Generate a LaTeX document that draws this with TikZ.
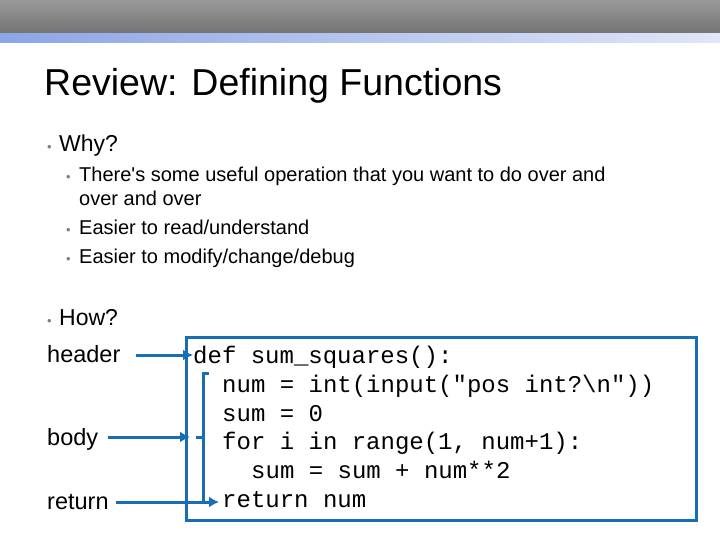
\documentclass[tikz,border=0pt]{standalone}
\usepackage{fontspec}
\usepackage{textcomp}
\setmainfont{Liberation Sans}
\newfontfamily\codefont{Liberation Mono}
\usetikzlibrary{arrows.meta}
\definecolor{conn}{RGB}{23,110,180}
\begin{document}
\begin{tikzpicture}[x=1pt,y=-1pt,
  lbl/.style={anchor=base west,inner sep=0pt,font=\fontsize{23}{27}\selectfont},
  sub/.style={anchor=base west,inner sep=0pt,font=\fontsize{20}{24}\selectfont},
  dot/.style={anchor=base west,inner sep=0pt,text=gray,font=\fontsize{13}{15}\selectfont},
  code/.style={anchor=base west,inner sep=0pt,font=\codefont\fontsize{24}{29}\selectfont},
  arr/.style={draw=conn,line width=3pt,-{Latex[length=10pt,width=11pt]}},
  ln/.style={draw=conn,line width=3pt}]
\useasboundingbox (0,0) rectangle (720,540);
\shade[top color=gray!80,bottom color=gray!90!black] (0,0) rectangle (720,34);
\shade[left color={rgb,255:red,140;green,165;blue,230},right color={rgb,255:red,225;green,230;blue,248}] (0,34) rectangle (720,43);
\node[anchor=base west,inner sep=0pt,font=\fontsize{37.5}{42}\selectfont] (title) at (44,96) {Review: Defining Functions};
\node[dot] (d1) at (47,152) {•};
\node[lbl] (why) at (59,152) {Why?};
\node[dot] (d2) at (66,182) {•};
\node[sub] (s1) at (79,182) {There\textquotesingle s some useful operation that you want to do over and};
\node[sub] (s1b) at (79,206) {over and over};
\node[dot] (d3) at (66,234) {•};
\node[sub] (s2) at (79,234) {Easier to read/understand};
\node[dot] (d4) at (66,263) {•};
\node[sub] (s3) at (79,263) {Easier to modify/change/debug};
\node[dot] (d5) at (47,325) {•};
\node[lbl] (how) at (59,325) {How?};
\node[lbl,font=\fontsize{23.5}{27}\selectfont] (header) at (47,362) {header};
\node[lbl,font=\fontsize{23.5}{27}\selectfont] (body) at (47,445) {body};
\node[lbl,font=\fontsize{23.5}{27}\selectfont] (ret) at (47,509) {return};
\draw[ln] (186,337) rectangle (696,520);
\node[code] (c1) at (193,363) {def sum\_squares():};
\node[code] (c2) at (222,392) {num = int(input("pos int?\textbackslash n"))};
\node[code] (c3) at (222,421) {sum = 0};
\node[code] (c4) at (222,449) {for i in range(1, num+1):};
\node[code] (c5) at (251,478) {sum = sum + num**2};
\node[code] (c6) at (222,507) {return num};
\coordinate (hA) at (136,355);
\coordinate (hB) at (193,355);
\draw[arr] (hA) -- (hB);
\coordinate (bA) at (108,437);
\coordinate (bB) at (190,437);
\draw[arr] (bA) -- (bB);
\coordinate (rA) at (116,502);
\coordinate (rB) at (219,502);
\draw[arr] (rA) -- (rB);
\draw[ln] (209,373) -- (203,373) -- (203,502) -- (210,502);
\draw[ln] (203,437) -- (196,437);
\end{tikzpicture}
\end{document}
